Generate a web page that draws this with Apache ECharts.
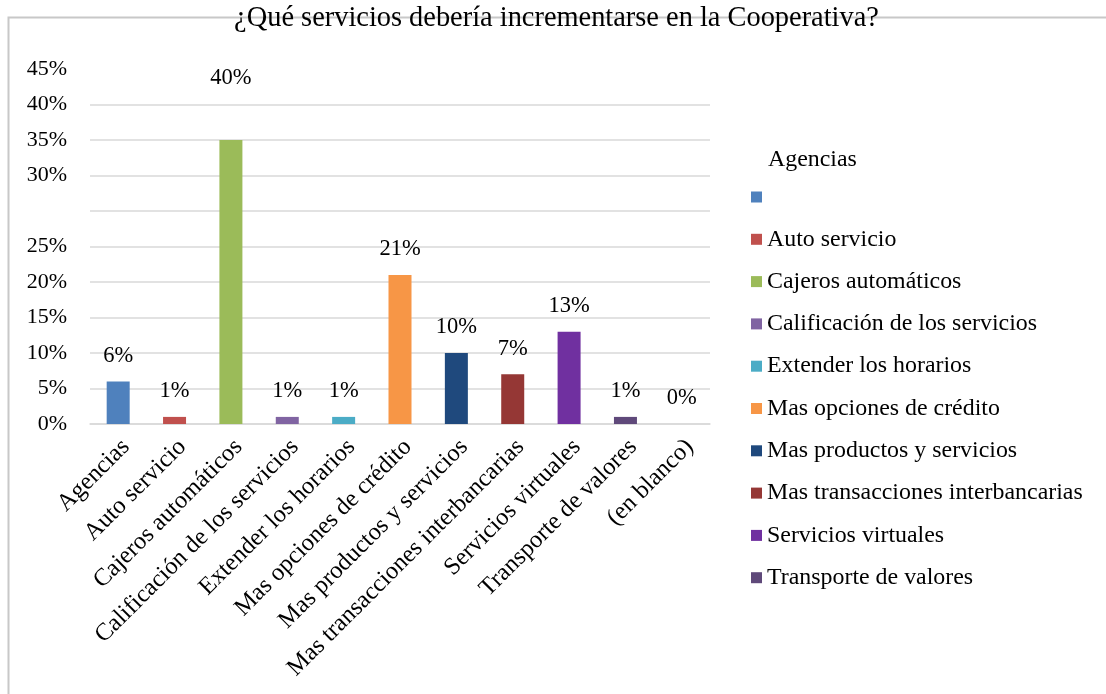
<!DOCTYPE html>
<html>
<head>
<meta charset="utf-8">
<script src="https://cdn.jsdelivr.net/npm/echarts@6/dist/echarts.min.js"></script>
<style>
  html, body { margin: 0; padding: 0; background: #ffffff; }
  #chart { width: 1106px; height: 694px; }
</style>
</head>
<body>
<div id="chart"></div>
<script>
// Survey answers: which services the cooperative should expand
const chartTitle = '¿Qué servicios debería incrementarse en la Cooperativa?';
const categories = [
  'Agencias', 'Auto servicio', 'Cajeros automáticos', 'Calificación de los servicios',
  'Extender los horarios', 'Mas opciones de crédito', 'Mas productos y servicios',
  'Mas transacciones interbancarias', 'Servicios virtuales', 'Transporte de valores', '(en blanco)'
];
const shares = [6, 1, 40, 1, 1, 21, 10, 7, 13, 1, 0];   // percent of respondents
const barColors = [
  '#4F81BD', '#C0504D', '#9BBB59', '#8064A2', '#4BACC6', '#F79646',
  '#1F497D', '#953735', '#7030A0', '#5F497A', '#4F81BD'
];
const legendItems = categories.slice(0, 10);
// value-axis tick captions, one per 5-point step from 0 to 50
const yTickLabels = ['0%', '5%', '10%', '15%', '20%', '25%', '', '30%', '35%', '40%', '45%'];

const FONT = '"Liberation Serif", "Times New Roman", serif';
const TEXT = '#000000';
const GRID_GREY = '#d9d9d9';
const peak = Math.max(...shares);

// one series per category so each bar gets its own legend entry
const series = categories.map((name, i) => ({
  name,
  type: 'bar',
  stack: 'answers',
  barWidth: 23,
  itemStyle: { color: barColors[i] },
  emphasis: { disabled: true },
  label: {
    show: true,
    position: 'top',
    distance: 14,
    offset: shares[i] === peak ? [0, -36] : [0, 0],
    fontFamily: FONT,
    fontSize: 22.5,
    color: TEXT,
    formatter: p => p.value + '%'
  },
  data: shares.map((v, j) => (j === i ? v : '-'))
}));

const chart = echarts.init(document.getElementById('chart'), null, { renderer: 'canvas' });
chart.setOption({
  animation: false,
  backgroundColor: '#ffffff',
  grid: { left: 90, right: 396, top: 69, bottom: 270 },
  xAxis: {
    type: 'category',
    data: categories,
    axisTick: { show: false },
    axisLine: { lineStyle: { color: GRID_GREY, width: 1.5 } },
    axisLabel: {
      interval: 0,
      rotate: 45,
      margin: 27,
      padding: [0, -11, 0, 0],
      fontFamily: FONT,
      fontSize: 24.5,
      color: TEXT
    }
  },
  yAxis: {
    type: 'value',
    min: 0,
    max: 50,
    interval: 5,
    axisLine: { show: false },
    axisTick: { show: false },
    splitLine: { showMaxLine: false, lineStyle: { color: GRID_GREY, width: 1.5 } },
    axisLabel: {
      margin: 23,
      showMaxLabel: true,
      fontFamily: FONT,
      fontSize: 22,
      color: TEXT,
      formatter: v => yTickLabels[Math.round(v / 5)]
    }
  },
  legend: {
    orient: 'vertical',
    left: 751,
    top: 185,
    padding: 0,
    icon: 'rect',
    itemWidth: 11,
    itemHeight: 11,
    itemGap: 18.3,
    selectedMode: false,
    data: legendItems,
    formatter: name => (name === categories[0] ? '\u00a0' : name),
    textStyle: { fontFamily: FONT, fontSize: 23.9, color: TEXT, lineHeight: 24 }
  },
  graphic: [
    {
      // chart frame: left and top edges
      type: 'polyline',
      silent: true,
      z: 0,
      shape: { points: [[8.5, 900], [8.5, 17.5], [1300, 17.5]] },
      style: { fill: 'none', stroke: '#c8c8c8', lineWidth: 2 }
    },
    {
      type: 'text',
      silent: true,
      z: 10,
      x: 556.5,
      y: 19,
      style: {
        text: chartTitle,
        fontFamily: FONT,
        fontSize: 28.4,
        fill: TEXT,
        align: 'center',
        verticalAlign: 'middle'
      }
    },
    {
      type: 'text',
      silent: true,
      z: 10,
      x: 768,
      y: 160,
      style: {
        text: categories[0],
        fontFamily: FONT,
        fontSize: 23.9,
        fill: TEXT,
        align: 'left',
        verticalAlign: 'middle'
      }
    }
  ],
  series
});
</script>
</body>
</html>
